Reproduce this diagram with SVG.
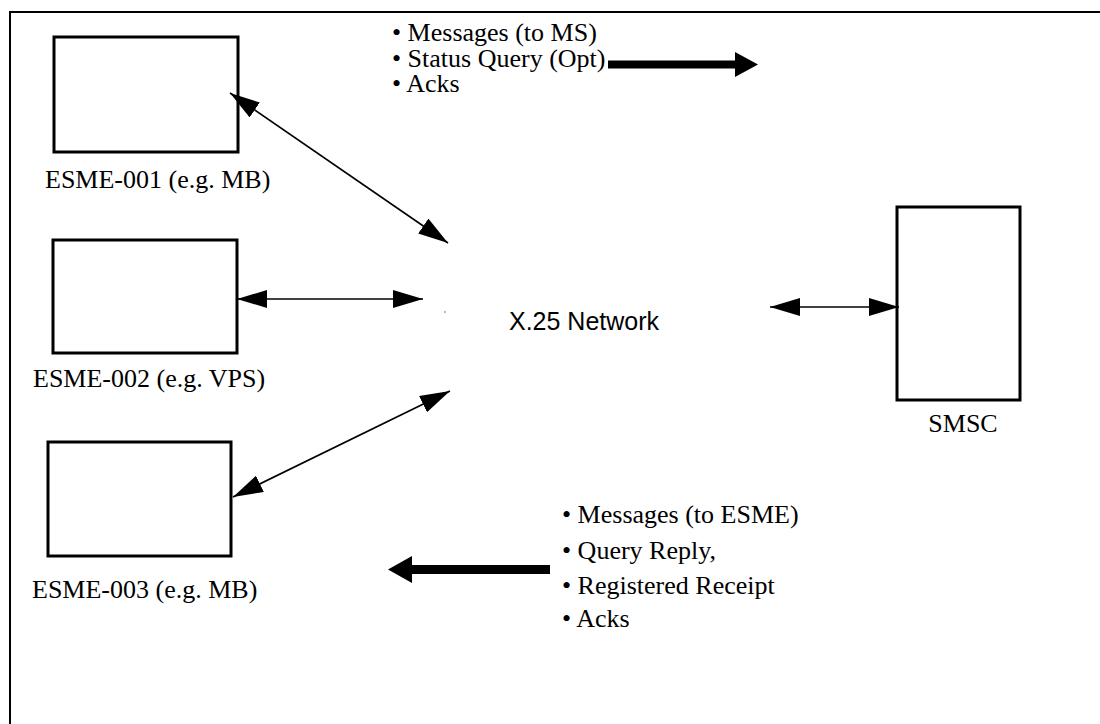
<svg xmlns="http://www.w3.org/2000/svg" width="1100" height="724" viewBox="0 0 1100 724">
<defs>
<marker id="ah" viewBox="0 0 30 18" refX="30" refY="9" markerWidth="30" markerHeight="18" markerUnits="userSpaceOnUse" orient="auto-start-reverse">
<path d="M0,0 L30,9 L0,18 Z" fill="#000"/>
</marker>
<style>
.box{fill:#fff;stroke:#000;stroke-width:3}
.lbl{font-family:"Liberation Serif","Times New Roman",serif;font-size:26px;fill:#000}
.net{font-family:"Liberation Sans",Arial,sans-serif;font-size:25px;fill:#000}
.conn{stroke:#000;stroke-width:1.6;fill:none;marker-start:url(#ah);marker-end:url(#ah)}
.frame{stroke:#000;stroke-width:2;fill:none}
</style>
</defs>
<rect width="1100" height="724" fill="#fff"/>
<path class="frame" d="M10,724 L10,12 L1100,12"/>

<g id="esme001">
<rect class="box" x="54" y="37" width="184" height="115"/>
<text class="lbl" x="45" y="188">ESME-001 (e.g. MB)</text>
</g>
<g id="esme002">
<rect class="box" x="53" y="240" width="184" height="113"/>
<text class="lbl" x="33" y="387">ESME-002 (e.g. VPS)</text>
</g>
<g id="esme003">
<rect class="box" x="48" y="442" width="183" height="114"/>
<text class="lbl" x="32" y="598">ESME-003 (e.g. MB)</text>
</g>
<g id="network">
<circle cx="445" cy="312" r="0.8" fill="#666"/>
<text class="net" x="509" y="330">X.25 Network</text>
</g>
<g id="smsc">
<rect class="box" x="897" y="207" width="123" height="193"/>
<text class="lbl" x="963" y="432" text-anchor="middle">SMSC</text>
</g>

<g id="connectors">
<line class="conn" x1="230" y1="93" x2="448" y2="243"/>
<line class="conn" x1="237" y1="299" x2="423" y2="299"/>
<line class="conn" x1="233" y1="497" x2="450" y2="391"/>
<line class="conn" x1="770" y1="307" x2="899" y2="307"/>
</g>

<g id="flow-out">
<text class="lbl">
<tspan x="392" y="41">• Messages (to MS)</tspan>
<tspan x="392" y="67">• Status Query (Opt)</tspan>
<tspan x="392" y="92">• Acks</tspan>
</text>
<path d="M608,60.5 L735,60.5 L735,52 L758,64.5 L735,77 L735,68.5 L608,68.5 Z" fill="#000"/>
</g>
<g id="flow-in">
<text class="lbl">
<tspan x="562" y="523">• Messages (to ESME)</tspan>
<tspan x="562" y="559">• Query Reply,</tspan>
<tspan x="562" y="594">• Registered Receipt</tspan>
<tspan x="562" y="627">• Acks</tspan>
</text>
<path d="M550,565 L412,565 L412,556 L388,569.5 L412,583 L412,574 L550,574 Z" fill="#000"/>
</g>
</svg>
